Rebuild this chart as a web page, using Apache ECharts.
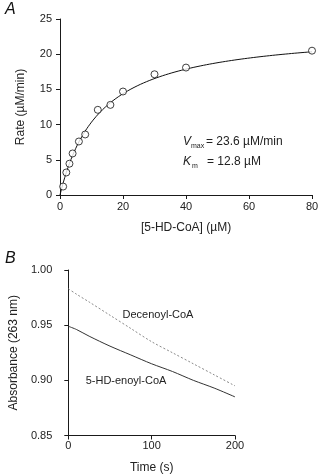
<!DOCTYPE html>
<html>
<head>
<meta charset="utf-8">
<script src="https://cdn.jsdelivr.net/npm/echarts@6/dist/echarts.min.js"></script>
<style>
  html, body { margin: 0; padding: 0; background: #fff; }
  #chart { width: 322px; height: 475px; }
</style>
</head>
<body>
<div id="chart"></div>
<script>
// Panel A: initial rate vs. substrate concentration
const substrateUM = [1, 2, 3, 4, 6, 8, 12, 16, 20, 30, 40, 80];
const rateUMperMin = [1.2, 3.2, 4.45, 5.9, 7.6, 8.6, 12.1, 12.8, 14.7, 17.15, 18.1, 20.5];
// Michaelis-Menten fit parameters
const vmax = 23.6;
const km = 12.8;
const rateTicks = [0, 5, 10, 15, 20, 25];
const substrateTicks = [0, 20, 40, 60, 80];

// Panel B: absorbance traces at 263 nm
const timeS = [0, 10, 25, 50, 75, 100, 125, 150, 175, 200];
const decenoylAbs = [0.983, 0.978, 0.971, 0.959, 0.947, 0.935, 0.925, 0.915, 0.905, 0.895];
const hdEnoylAbs = [0.949, 0.946, 0.940, 0.931, 0.923, 0.915, 0.908, 0.900, 0.893, 0.885];
const absTicks = [0.85, 0.90, 0.95, 1.00];
const timeTicks = [0, 100, 200];

// fitted curve drawn from the stated Vmax and Km
const fitX = [];
for (let s = 0; s <= 80; s += 0.5) fitX.push(s);
const fitCurve = fitX.map(s => [s, vmax * s / (km + s)]);

const FONT = '"Liberation Sans", Arial, Helvetica, sans-serif';
const axisColor = '#1a1a1a';
const labelStyle = { color: '#222', fontSize: 11, fontFamily: FONT };
const nameStyle = { color: '#222', fontSize: 12, fontFamily: FONT };

function valueAxis(extra) {
  return Object.assign({
    type: 'value',
    axisLine: { show: true, lineStyle: { color: axisColor, width: 1 } },
    axisTick: { show: true, inside: false, length: 4, lineStyle: { color: axisColor } },
    splitLine: { show: false },
    nameLocation: 'middle',
    nameTextStyle: nameStyle
  }, extra);
}

const chart = echarts.init(document.getElementById('chart'), null, { renderer: 'canvas' });

chart.setOption({
  animation: false,
  backgroundColor: '#fff',
  grid: [
    { left: 60, top: 19, width: 252, height: 176 },
    { left: 68, top: 270, width: 167, height: 165.5 }
  ],
  xAxis: [
    valueAxis({
      gridIndex: 0, min: substrateTicks[0], max: substrateTicks[substrateTicks.length - 1], interval: 20,
      name: '[5-HD-CoA] (µM)', nameGap: 27,
      axisLabel: Object.assign({ margin: 6 }, labelStyle)
    }),
    valueAxis({
      gridIndex: 1, min: timeTicks[0], max: timeTicks[timeTicks.length - 1], interval: 100,
      name: 'Time (s)', nameGap: 26,
      axisLabel: Object.assign({ margin: 5 }, labelStyle)
    })
  ],
  yAxis: [
    valueAxis({
      gridIndex: 0, min: rateTicks[0], max: rateTicks[rateTicks.length - 1], interval: 5,
      name: 'Rate (µM/min)', nameGap: 33,
      axisLabel: Object.assign({ margin: 8 }, labelStyle)
    }),
    valueAxis({
      gridIndex: 1, min: absTicks[0], max: absTicks[absTicks.length - 1], interval: 0.05,
      offset: 7,
      name: 'Absorbance (263 nm)', nameGap: 34,
      axisLabel: Object.assign({ margin: 9, formatter: v => v.toFixed(2) }, labelStyle)
    })
  ],
  series: [
    {
      type: 'line', xAxisIndex: 0, yAxisIndex: 0,
      data: fitCurve, showSymbol: false, smooth: false,
      lineStyle: { color: '#111', width: 1 }, z: 2
    },
    {
      type: 'scatter', xAxisIndex: 0, yAxisIndex: 0,
      data: substrateUM.map((s, i) => [s, rateUMperMin[i]]),
      symbol: 'circle', symbolSize: 7,
      itemStyle: { color: '#fff', borderColor: '#111', borderWidth: 1 }, z: 3
    },
    {
      type: 'line', xAxisIndex: 1, yAxisIndex: 1,
      data: timeS.map((t, i) => [t, decenoylAbs[i]]),
      showSymbol: false, smooth: 0.3,
      lineStyle: { color: '#8a8a8a', width: 1, type: [2, 2] }
    },
    {
      type: 'line', xAxisIndex: 1, yAxisIndex: 1,
      data: timeS.map((t, i) => [t, hdEnoylAbs[i]]),
      showSymbol: false, smooth: 0.3,
      lineStyle: { color: '#333', width: 1 }
    }
  ],
  graphic: [
    { type: 'text', left: 5, top: 2, style: { text: 'A', font: 'italic 16px ' + FONT, fill: '#111' } },
    { type: 'text', left: 5, top: 251, style: { text: 'B', font: 'italic 16px ' + FONT, fill: '#111' } },
    // kinetic constants
    { type: 'text', x: 183, y: 142, style: { text: 'V', font: 'italic 12px ' + FONT, fill: '#222', verticalAlign: 'middle' } },
    { type: 'text', x: 191, y: 146, style: { text: 'max', font: '7px ' + FONT, fill: '#222', verticalAlign: 'middle' } },
    { type: 'text', x: 206, y: 142, style: { text: '= 23.6 µM/min', font: '12px ' + FONT, fill: '#222', verticalAlign: 'middle' } },
    { type: 'text', x: 183, y: 162, style: { text: 'K', font: 'italic 12px ' + FONT, fill: '#222', verticalAlign: 'middle' } },
    { type: 'text', x: 192, y: 166, style: { text: 'm', font: '7px ' + FONT, fill: '#222', verticalAlign: 'middle' } },
    { type: 'text', x: 207, y: 162, style: { text: '= 12.8 µM', font: '12px ' + FONT, fill: '#222', verticalAlign: 'middle' } },
    // trace labels
    { type: 'text', x: 158, y: 315, style: { text: 'Decenoyl-CoA', font: '11px ' + FONT, fill: '#222', align: 'center', verticalAlign: 'middle' } },
    { type: 'text', x: 126, y: 381, style: { text: '5-HD-enoyl-CoA', font: '11px ' + FONT, fill: '#222', align: 'center', verticalAlign: 'middle' } }
  ]
});
</script>
</body>
</html>
